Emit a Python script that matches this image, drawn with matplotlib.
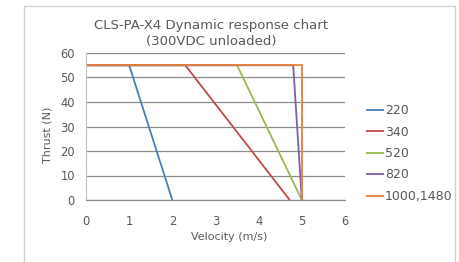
import matplotlib
matplotlib.use("Agg")
import matplotlib.pyplot as plt
from matplotlib.patches import Rectangle

# Data
series_names = ["220", "340", "520", "820", "1000,1480"]
vel_220 = [0, 1.0, 2.0]
thr_220 = [55, 55, 0]
vel_340 = [0, 2.3, 4.72]
thr_340 = [55, 55, 0]
vel_520 = [0, 3.5, 5.0]
thr_520 = [55, 55, 0]
vel_820 = [0, 4.8, 5.0]
thr_820 = [55, 55, 0]
vel_1000 = [0, 5.0, 5.0]
thr_1000 = [55, 55, 0]
colors = ["#4A7EBB", "#BE4B48", "#98B954", "#7D60A0", "#E67E3A"]
xticks = [0, 1, 2, 3, 4, 5, 6]
yticks = [0, 10, 20, 30, 40, 50, 60]

W, H = 459, 262
fig = plt.figure(figsize=(W / 100, H / 100), dpi=100)
plt.rcParams['font.family'] = ['DejaVu Sans']
txt = "#595959"

# Chart border
fig.patches.append(Rectangle((24 / W, -0.2), (455 - 24) / W, (262 - 6) / H + 0.2,
                             transform=fig.transFigure, fill=False,
                             edgecolor="#D0D0D0", linewidth=1.0))

ax = fig.add_axes([86 / W, 1 - 200 / H, (345 - 86) / W, (200 - 53) / H])
xs = [vel_220, vel_340, vel_520, vel_820, vel_1000]
ys = [thr_220, thr_340, thr_520, thr_820, thr_1000]
for x, y, c, n in zip(xs, ys, colors, series_names):
    ax.plot(x, y, color=c, linewidth=1.3, label=n, solid_capstyle="butt")

ax.set_xlim(0, 6)
ax.set_ylim(0, 60)
ax.set_xticks(xticks)
ax.set_yticks(yticks)
ax.yaxis.grid(True, color="#8C8C8C", linewidth=0.9)
ax.set_axisbelow(True)
for s in ["top", "right"]:
    ax.spines[s].set_visible(False)
ax.spines["bottom"].set_color("#8C8C8C")
ax.spines["bottom"].set_linewidth(0.9)
ax.spines["left"].set_color("#BFBFBF")
ax.spines["left"].set_linewidth(0.8)
ax.tick_params(length=0, labelsize=8.3, labelcolor=txt, pad=8)
ax.tick_params(axis="x", pad=11)

fig.text(211 / W, 1 - 25 / H, "CLS-PA-X4 Dynamic response chart", ha="center", va="center",
         fontsize=9.5, color=txt)
fig.text(211 / W, 1 - 41 / H, "(300VDC unloaded)", ha="center", va="center",
         fontsize=9.5, color=txt)
fig.text(229 / W, 1 - 237 / H, "Velocity (m/s)", ha="center", va="center", fontsize=8, color=txt)
fig.text(48 / W, 1 - 135 / H, "Thrust (N)", ha="center", va="center", fontsize=8, color=txt,
         rotation=90)

fig.legend(loc="center left", bbox_to_anchor=(366 / W, 1 - 153.5 / H), frameon=False,
           fontsize=9, handlelength=1.4, handletextpad=0.1, labelspacing=0.68,
           labelcolor=txt, borderaxespad=0, borderpad=0)

fig.savefig("out.png", dpi=100, facecolor="white")
